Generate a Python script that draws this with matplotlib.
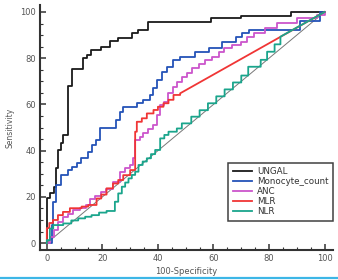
import matplotlib
matplotlib.use("Agg")
import matplotlib.pyplot as plt
from matplotlib.lines import Line2D

# ROC steps: 100-Specificity where the curve jumps, Sensitivity after the jump
ungal_fpr = [0, 0, 1, 2.5, 3.4, 4.2, 5.2, 5.8, 7.8, 9.1, 13, 14.5, 15.8, 19.6, 22.6, 25.7,
             30.6, 32.9, 36.5, 59, 69.8, 88, 100]
ungal_tpr = [0, 19.6, 21.6, 24.4, 32.5, 40.3, 43.3, 46.8, 68, 75.3, 80.2, 81.4, 83.5, 85,
             87.4, 88.6, 90.8, 92.2, 95.8, 97.3, 98.4, 100, 100]

mono_fpr = [0, 2, 2.3, 3.4, 5.2, 7.6, 8.9, 10.7, 12.4, 14.8, 16.3, 17.8, 19, 24.9, 26.4, 27.5,
            32.4, 34.8, 37.2, 38.4, 39.8, 41.4, 43.2, 45.6, 48, 53.5, 58.4, 63.2, 68, 70.4,
            72.8, 91, 98.5, 100]
mono_tpr = [0, 8, 17.9, 25.1, 29.4, 31.6, 33, 34.5, 36.7, 39.5, 42.4, 44.6, 49.6, 53.2, 56.8,
            59, 60.5, 62, 64, 67, 70.6, 74.2, 76.4, 79.2, 80.7, 82.8, 84.5, 86.9, 89.3, 90.8,
            92.4, 96.1, 100, 100]

anc_fpr = [0, 1, 2.5, 4, 5.8, 7.6, 9.4, 11.8, 14.2, 15.4, 17.5, 19.6, 21.4, 23.8, 26.4, 28.2,
           30, 31, 31.8, 33.6, 34.8, 36.6, 38.4, 39.6, 40.8, 42.3, 43.8, 45.6, 46.8, 48.6,
           50.5, 52.3, 54.8, 57.1, 59.6, 62, 63.8, 66.8, 69.8, 72.2, 74.5, 78.5, 82.9, 90.1,
           97.4, 100]
anc_tpr = [0, 2.7, 5.6, 9.2, 11.4, 12.8, 14.3, 15.3, 16.5, 19, 20.5, 22.2, 23.5, 26.5, 30.9,
           32.3, 33.8, 36.7, 44.6, 46, 47.5, 49.5, 51, 55.4, 59.7, 61, 64.8, 67.7, 69.8, 72,
           73.5, 75.6, 77.5, 79.2, 80.7, 82.5, 84.3, 85.7, 87.1, 89.3, 91, 93, 95.1, 97.3,
           98.7, 100]

mlr_fpr = [0, 0, 0.9, 2.2, 4, 5.8, 8.3, 12.5, 14.9, 17.9, 19.6, 21.5, 23.8, 25.7, 27.5, 30,
           31.8, 32.4, 34.2, 36, 38.4, 40, 42, 43.8, 45.6, 48, 100]
mlr_tpr = [0, 6.5, 8.7, 10, 12.1, 13.5, 15.1, 15.8, 16.5, 19.3, 21, 23.7, 25.8, 27.3, 29.4,
           31.6, 48.2, 52.5, 54, 56.1, 57.6, 59, 60.5, 62, 64.1, 64.8, 100]

nlr_fpr = [0, 0, 1.1, 2.3, 5.9, 8.8, 11.3, 13.8, 16.1, 18.8, 21.5, 24.5, 25.7, 27, 28.2, 29.4,
           30.6, 31.8, 33, 34.5, 36, 37.5, 39, 40.8, 42.3, 43.8, 46.8, 48.6, 52, 55, 58, 61,
           64, 67, 70, 72.5, 77, 79.3, 82, 84.1, 100]
nlr_tpr = [0, 1.3, 6.3, 7.8, 8.5, 9.8, 10.7, 11.4, 12.1, 13.2, 13.9, 17.9, 21.5, 24.4, 26.2,
           28, 29.5, 30.9, 33.8, 35.3, 36.7, 38.5, 40.3, 45.3, 46.8, 48.2, 49.6, 51.8, 54.7,
           57.5, 60.5, 63.5, 66.5, 69.5, 72.5, 76.3, 79.3, 82.8, 86, 89.3, 100]

names = ["UNGAL", "Monocyte_count", "ANC", "MLR", "NLR"]
colors = ["#1a1a1a", "#2453b8", "#cc55cc", "#f03535", "#1aa58c"]
diag_tail = [False, False, False, True, True]   # last segment is a tie (straight line)


def roc_path(xs, ys, tail=False):
    px, py = [xs[0]], [ys[0]]
    n = len(xs)
    for i in range(1, n):
        if tail and i == n - 1:
            px.append(xs[i])
            py.append(ys[i])
        else:
            px += [xs[i], xs[i]]
            py += [ys[i - 1], ys[i]]
    return px, py


plt.rcParams['font.family'] = ['DejaVu Sans']
fig = plt.figure(figsize=(3.38, 2.8), dpi=100)
ax = fig.add_axes([0.118, 0.107, 0.867, 0.875])

# diagonal reference line
ax.plot([0, 100], [0, 100], color="#777777", lw=0.7, zorder=1)

curves = [(ungal_fpr, ungal_tpr), (mono_fpr, mono_tpr), (anc_fpr, anc_tpr),
          (mlr_fpr, mlr_tpr), (nlr_fpr, nlr_tpr)]
for (fx, ty), nm, c, tl in zip(curves, names, colors, diag_tail):
    px, py = roc_path(fx, ty, tl)
    ax.plot(px, py, color=c, lw=1.3, label=nm, zorder=2)

ax.set_xlim(-2.5, 103)
ax.set_ylim(-3, 103)
ax.set_xticks(range(0, 101, 20))
ax.set_yticks(range(0, 101, 20))
ax.set_xticks(range(0, 101, 5), minor=True)
ax.set_yticks(range(0, 101, 5), minor=True)
ax.tick_params(which='major', direction='in', length=4.5, width=1.1, color="#333333",
               labelsize=6, labelcolor="#555555", pad=3)
ax.tick_params(which='minor', direction='in', length=2.5, width=0.8, color="#333333")

for s in ['top', 'right']:
    ax.spines[s].set_visible(False)
for s in ['left', 'bottom']:
    ax.spines[s].set_linewidth(1.5)
    ax.spines[s].set_color("#333333")

ax.set_ylabel("Sensitivity", fontsize=5.5, color="#555555", labelpad=4)
ax.set_xlabel("100-Specificity", fontsize=6, color="#555555", labelpad=3)

leg = ax.legend(loc='upper right', bbox_to_anchor=(1.0, 0.357), fontsize=6.3,
                frameon=True, fancybox=False, handlelength=2.2, handletextpad=0.6,
                labelspacing=0.12, borderpad=0.5, borderaxespad=0)
leg.get_frame().set_edgecolor("#111111")
leg.get_frame().set_linewidth(1.1)
for t in leg.get_texts():
    t.set_color("#333333")

# light blue rule along the bottom edge
fig.add_artist(Line2D([0, 1], [0.006, 0.006], transform=fig.transFigure,
                      color="#3cb6e6", lw=1.6))

fig.savefig("out.png", dpi=100)
